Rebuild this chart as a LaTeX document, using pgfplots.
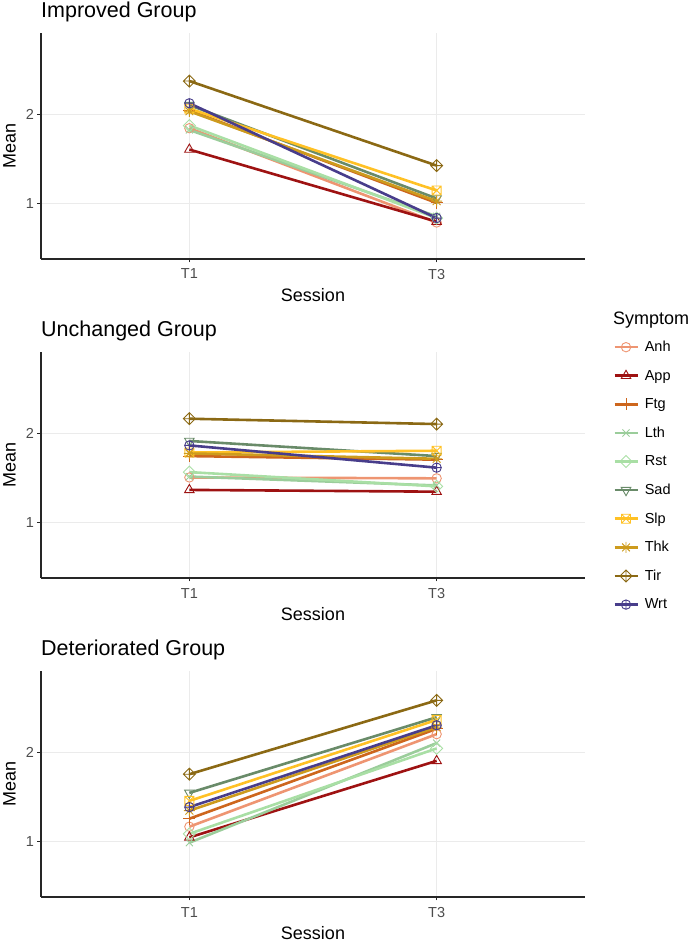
\documentclass[border=0pt]{standalone}
\usepackage{pgfplots}
\pgfplotsset{compat=1.18}
\usepackage{pgfplotstable}
\usepackage{fontspec}
\setmainfont{Liberation Sans}

\definecolor{cAnh}{HTML}{EE9572}
\definecolor{cApp}{HTML}{9E1212}
\definecolor{cFtg}{HTML}{CD661D}
\definecolor{cLth}{HTML}{9BCD9B}
\definecolor{cRst}{HTML}{A9DFA5}
\definecolor{cSad}{HTML}{698B69}
\definecolor{cSlp}{HTML}{FFC125}
\definecolor{cThk}{HTML}{CD9B1D}
\definecolor{cTir}{HTML}{8B6914}
\definecolor{cWrt}{HTML}{483D8B}

\pgfdeclareplotmark{gdiamond}{%
  \pgfpathmoveto{\pgfqpoint{0pt}{\pgfplotmarksize}}%
  \pgfpathlineto{\pgfqpoint{\pgfplotmarksize}{0pt}}%
  \pgfpathlineto{\pgfqpoint{0pt}{-\pgfplotmarksize}}%
  \pgfpathlineto{\pgfqpoint{-\pgfplotmarksize}{0pt}}%
  \pgfpathclose\pgfusepathqstroke}
\pgfdeclareplotmark{dplus}{%
  \pgfpathmoveto{\pgfqpoint{0pt}{\pgfplotmarksize}}%
  \pgfpathlineto{\pgfqpoint{\pgfplotmarksize}{0pt}}%
  \pgfpathlineto{\pgfqpoint{0pt}{-\pgfplotmarksize}}%
  \pgfpathlineto{\pgfqpoint{-\pgfplotmarksize}{0pt}}%
  \pgfpathclose
  \pgfpathmoveto{\pgfqpoint{0pt}{\pgfplotmarksize}}%
  \pgfpathlineto{\pgfqpoint{0pt}{-\pgfplotmarksize}}%
  \pgfpathmoveto{\pgfqpoint{-\pgfplotmarksize}{0pt}}%
  \pgfpathlineto{\pgfqpoint{\pgfplotmarksize}{0pt}}%
  \pgfusepathqstroke}
\pgfdeclareplotmark{sqx}{%
  \pgfpathrectangle{\pgfqpoint{-\pgfplotmarksize}{-\pgfplotmarksize}}{\pgfqpoint{2\pgfplotmarksize}{2\pgfplotmarksize}}%
  \pgfpathmoveto{\pgfqpoint{-\pgfplotmarksize}{-\pgfplotmarksize}}%
  \pgfpathlineto{\pgfqpoint{\pgfplotmarksize}{\pgfplotmarksize}}%
  \pgfpathmoveto{\pgfqpoint{-\pgfplotmarksize}{\pgfplotmarksize}}%
  \pgfpathlineto{\pgfqpoint{\pgfplotmarksize}{-\pgfplotmarksize}}%
  \pgfusepathqstroke}
\pgfdeclareplotmark{star8}{%
  \pgfpathmoveto{\pgfqpoint{0pt}{\pgfplotmarksize}}%
  \pgfpathlineto{\pgfqpoint{0pt}{-\pgfplotmarksize}}%
  \pgfpathmoveto{\pgfqpoint{-\pgfplotmarksize}{0pt}}%
  \pgfpathlineto{\pgfqpoint{\pgfplotmarksize}{0pt}}%
  \pgfpathmoveto{\pgfqpoint{-.707\pgfplotmarksize}{-.707\pgfplotmarksize}}%
  \pgfpathlineto{\pgfqpoint{.707\pgfplotmarksize}{.707\pgfplotmarksize}}%
  \pgfpathmoveto{\pgfqpoint{-.707\pgfplotmarksize}{.707\pgfplotmarksize}}%
  \pgfpathlineto{\pgfqpoint{.707\pgfplotmarksize}{-.707\pgfplotmarksize}}%
  \pgfusepathqstroke}

% x = 1 (T1), 2 (T3)
\pgfplotstableread{
x Anh App Ftg Lth Rst Sad Slp Thk Tir Wrt
1 1.85 1.61 2.05 1.83 1.88 2.11 2.07 2.04 2.38 2.13
2 0.79 0.80 1.01 0.86 0.84 1.06 1.15 1.03 1.43 0.84
}\improved
\pgfplotstableread{
x Anh App Ftg Lth Rst Sad Slp Thk Tir Wrt
1 1.51 1.37 1.75 1.52 1.57 1.92 1.79 1.78 2.17 1.87
2 1.50 1.35 1.71 1.42 1.41 1.75 1.81 1.72 2.11 1.62
}\unchanged
\pgfplotstableread{
x Anh App Ftg Lth Rst Sad Slp Thk Tir Wrt
1 1.17 1.05 1.26 0.99 1.09 1.55 1.46 1.35 1.76 1.39
2 2.21 1.91 2.27 2.11 2.05 2.40 2.37 2.29 2.59 2.31
}\deteriorated

\pgfplotsset{
  sym/.style n args={4}{color=#1, mark=#2, mark size=#3, line width=2.6pt,
    mark options={solid, line width=0.9pt, fill=none, rotate=#4}},
  panel/.style={
    scale only axis, width=544pt, height=226pt, anchor=south west,
    xmin=0.4, xmax=2.6, ymin=0.38, ymax=2.92,
    xtick={1,2}, xticklabels={T1,T3}, ytick={1,2}, yticklabels={1,2},
    /pgf/number format/assume math mode=true,
    axis lines=left, axis line style={-, line width=1.1pt, color=black!85},
    tick align=outside, major tick length=3.5pt,
    tick style={line width=0.9pt, color=black!85},
    grid=major, major grid style={line width=0.9pt, color=black!8},
    ticklabel style={font=\fontsize{14.5}{14.5}\selectfont, text=black!70},
    xticklabel style={yshift=-3pt},
    xlabel=Session, ylabel=Mean,
    label style={font=\fontsize{18}{18}\selectfont, inner sep=0pt},
    xlabel style={at={(axis description cs:0.5,-0.1900)}, anchor=base},
    ylabel style={at={(axis description cs:-0.0579,0.5)}, anchor=center},
    every axis title/.style={at={(axis description cs:0,1)}, anchor=base west, yshift=15pt,
      font=\fontsize{21.5}{21.5}\selectfont, inner sep=0pt},
    legend image code/.code={\draw[mark repeat=2,mark phase=2] plot coordinates {(0pt,0pt) (11.5pt,0pt) (23pt,0pt)};},
  },
}

\newcommand{\drawgroup}[1]{%
  \addplot[sym={cAnh}{o}{4.7pt}{0}] table[x=x,y=Anh] {#1};
  \addplot[sym={cApp}{triangle}{5.5pt}{0}] table[x=x,y=App] {#1};
  \addplot[sym={cFtg}{+}{6pt}{0}] table[x=x,y=Ftg] {#1};
  \addplot[sym={cLth}{x}{5pt}{0}] table[x=x,y=Lth] {#1};
  \addplot[sym={cRst}{gdiamond}{6pt}{0}] table[x=x,y=Rst] {#1};
  \addplot[sym={cSad}{triangle}{5.5pt}{180}] table[x=x,y=Sad] {#1};
  \addplot[sym={cSlp}{sqx}{4.5pt}{0}] table[x=x,y=Slp] {#1};
  \addplot[sym={cThk}{star8}{5.5pt}{0}] table[x=x,y=Thk] {#1};
  \addplot[sym={cTir}{dplus}{6pt}{0}] table[x=x,y=Tir] {#1};
  \addplot[sym={cWrt}{oplus}{4.7pt}{0}] table[x=x,y=Wrt] {#1};
}

\begin{document}
\begin{tikzpicture}
\path[use as bounding box] (0,0) rectangle (692pt,942pt);

\begin{axis}[panel, at={(41pt,683pt)}, title={Improved Group}]
\drawgroup{\improved}
\end{axis}

\begin{axis}[panel, at={(41pt,364pt)}, title={Unchanged Group},
  legend style={at={(axis description cs:1.0515,1.0854)}, anchor=north west,
    draw=none, fill=none, inner sep=0pt, row sep=0pt,
    font=\fontsize{14.5}{14.5}\selectfont,
    nodes={inner sep=0pt, minimum height=28.6pt}},
  legend cell align=left]
\drawgroup{\unchanged}
\legend{\hspace{6pt}Anh,\hspace{6pt}App,\hspace{6pt}Ftg,\hspace{6pt}Lth,\hspace{6pt}Rst,\hspace{6pt}Sad,\hspace{6pt}Slp,\hspace{6pt}Thk,\hspace{6pt}Tir,\hspace{6pt}Wrt}
\end{axis}

\begin{axis}[panel, at={(41pt,45pt)}, title={Deteriorated Group}]
\drawgroup{\deteriorated}
\end{axis}

\node[anchor=base west, inner sep=0pt, font=\fontsize{18}{18}\selectfont] at (613pt,617pt) {Symptom};
\end{tikzpicture}
\end{document}
